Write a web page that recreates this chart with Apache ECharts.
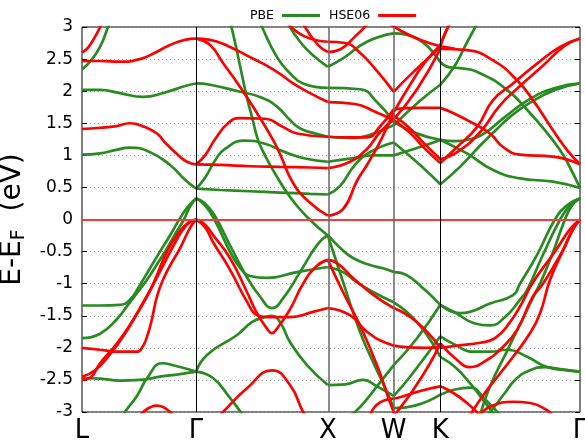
<!DOCTYPE html>
<html>
<head>
<meta charset="utf-8">
<script src="https://cdn.jsdelivr.net/npm/echarts@6/dist/echarts.min.js"></script>
<style>
  html, body { margin: 0; padding: 0; background: #fff; }
  #chart { width: 585px; height: 448px; }
</style>
</head>
<body>
<div id="chart"></div>
<script>
// High-symmetry points along the FCC path (cumulative path length)
const kPoints = [0, 0.866, 1.866, 2.366, 2.72, 3.78];
const kLabels = ['L', 'Γ', 'X', 'W', 'K', 'Γ'];

// ---- PBE bands: [k, E - E_F (eV)] ----
const pbe01 = [[0,2.34],[0.061,2.46],[0.137,2.69],[0.197,3.0],[0.23,3.2]];
const pbe02 = [[0,2.02],[0.137,2.02],[0.288,1.97],[0.463,1.91],[0.63,1.98],[0.782,2.08],[0.866,2.12],[0.972,2.1],[1.199,1.99],[1.351,1.91],[1.48,1.76],[1.579,1.55],[1.655,1.42],[1.753,1.35],[1.866,1.29],[2.034,1.27],[2.186,1.32],[2.366,1.47],[2.566,1.85],[2.72,2.1],[2.831,2.4],[2.907,2.7],[2.998,3.05]];
const pbe03 = [[0,1.01],[0.137,1.03],[0.25,1.08],[0.364,1.12],[0.516,1.05],[0.668,0.85],[0.782,0.62],[0.866,0.48],[1.048,0.46],[1.275,0.44],[1.503,0.42],[1.731,0.40],[1.866,0.39],[1.958,0.52],[2.072,0.85],[2.186,1.05],[2.366,1.2],[2.566,0.85],[2.72,0.55],[2.869,0.82],[3.021,1.15],[3.135,1.38],[3.249,1.6],[3.401,1.82],[3.59,2.02],[3.78,2.12]];
const pbe04 = [[0.866,0.48],[0.934,0.65],[1.01,0.92],[1.085,1.1],[1.237,1.23],[1.389,1.18],[1.541,1.05],[1.693,0.95],[1.866,0.9],[2.034,0.95],[2.224,1.0],[2.366,1.0],[2.566,1.13],[2.72,1.24],[2.922,1.03],[3.12,0.77],[3.325,0.64],[3.575,0.59],[3.78,0.49]];
const pbe05 = [[1.336,3.15],[1.366,3.0],[1.48,2.53],[1.579,2.28],[1.678,2.12],[1.866,2.05],[2.11,2.03],[2.239,1.83],[2.366,1.52],[2.528,1.35],[2.72,1.24],[2.831,1.22],[2.945,1.25],[3.059,1.35],[3.211,1.6],[3.401,1.88],[3.59,2.05],[3.78,2.12]];
const pbe06 = [[1.564,3.05],[1.655,2.77],[1.753,2.56],[1.866,2.38],[1.981,2.51],[2.163,2.77],[2.366,2.9],[2.543,2.82],[2.72,2.45],[2.793,2.37],[2.869,2.36],[3.021,2.28],[3.226,2.02],[3.378,1.71],[3.53,1.35],[3.629,1.08],[3.682,0.9],[3.78,0.49]];
const pbe07 = [[1.108,3.2],[1.146,2.9],[1.199,2.4],[1.252,1.9],[1.29,1.6],[1.336,1.24],[1.389,1.0],[1.45,0.77],[1.579,0.35],[1.708,0.04],[1.866,-0.25],[1.981,-0.97],[2.11,-1.75],[2.209,-2.22],[2.315,-2.69],[2.366,-2.94],[2.528,-2.9],[2.72,-2.73],[2.831,-2.65],[2.945,-2.62],[3.059,-2.8],[3.173,-3.05]];
const pbe08 = [[0.866,0.33],[0.934,0.25],[1.01,0.05],[1.123,-0.4],[1.252,-0.9],[1.351,-1.2],[1.442,-1.38],[1.526,-1.23],[1.655,-0.82],[1.784,-0.4],[1.866,-0.24],[1.958,-0.44],[2.057,-0.6],[2.186,-0.71],[2.285,-0.76],[2.366,-0.82],[2.467,-0.87],[2.604,-1.1],[2.72,-1.33],[2.869,-1.46],[2.945,-1.44],[3.097,-1.31],[3.272,-1.18],[3.325,-1.0],[3.454,-0.55],[3.59,0.0],[3.682,0.22],[3.78,0.33]];
const pbe09 = [[0.866,0.33],[0.934,0.22],[1.01,-0.02],[1.123,-0.5],[1.199,-0.75],[1.275,-0.88],[1.404,-0.91],[1.632,-0.82],[1.866,-0.74],[1.981,-0.82],[2.087,-0.98],[2.209,-1.13],[2.366,-1.29],[2.543,-1.6],[2.72,-2.14],[2.831,-2.3],[2.945,-2.55],[3.059,-2.85],[3.135,-3.05]];
const pbe10 = [[2.034,-3.05],[2.072,-3.0],[2.163,-2.8],[2.239,-2.6],[2.366,-2.27],[2.543,-1.85],[2.72,-1.33],[2.831,-1.45],[2.983,-1.62],[3.097,-1.65],[3.211,-1.52],[3.325,-1.25],[3.378,-1.1],[3.499,-0.55],[3.629,0.0],[3.705,0.22],[3.78,0.33]];
const pbe11 = [[0,-2.47],[0.137,-2.48],[0.288,-2.51],[0.44,-2.5],[0.592,-2.45],[0.744,-2.41],[0.866,-2.37],[0.949,-2.11],[1.177,-1.8],[1.29,-1.6],[1.389,-1.52],[1.442,-1.5],[1.503,-1.6],[1.579,-1.91],[1.708,-2.27],[1.866,-2.58],[1.996,-2.57],[2.133,-2.5],[2.239,-2.6],[2.366,-2.75],[2.49,-2.45],[2.72,-1.82],[2.831,-1.95],[2.968,-2.06],[3.097,-2.06],[3.226,-2.03],[3.378,-2.14],[3.53,-2.3],[3.682,-2.35],[3.78,-2.37]];
const pbe12 = [[0.288,-3.15],[0.326,-3.0],[0.417,-2.75],[0.501,-2.45],[0.607,-2.24],[0.706,-2.28],[0.866,-2.37],[0.994,-2.47],[1.123,-2.78],[1.222,-3.05]];
const pbe13 = [[3.059,-3.05],[3.097,-3.0],[3.211,-2.7],[3.287,-2.5],[3.401,-2.35],[3.515,-2.3],[3.629,-2.33],[3.78,-2.37]];
const pbe14 = [[0,-1.34],[0.137,-1.34],[0.288,-1.33],[0.364,-1.25],[0.44,-1.02],[0.516,-0.76],[0.592,-0.5],[0.668,-0.25],[0.744,0.02],[0.805,0.2],[0.866,0.33]];
const pbe15 = [[0,-1.85],[0.137,-1.78],[0.266,-1.55],[0.342,-1.35],[0.417,-1.15],[0.493,-0.94],[0.569,-0.7],[0.645,-0.45],[0.721,-0.18],[0.774,0.0],[0.82,0.2],[0.866,0.33]];
const pbe16 = [[3.021,-3.05],[3.097,-2.6],[3.226,-2.05],[3.34,-1.57],[3.439,-1.15],[3.477,-1.0],[3.568,-0.55],[3.666,0.0],[3.72,0.22],[3.78,0.33]];

// ---- HSE06 bands: [k, E - E_F (eV)] ----
const hse01 = [[0,2.6],[0.046,2.68],[0.099,2.85],[0.137,3.0],[0.159,3.15]];
const hse02 = [[0,2.47],[0.137,2.47],[0.288,2.46],[0.44,2.5],[0.554,2.6],[0.668,2.72],[0.782,2.8],[0.866,2.82],[0.972,2.8],[1.123,2.69],[1.275,2.53],[1.374,2.43],[1.503,2.27],[1.602,2.12],[1.731,1.97],[1.866,1.83],[2.072,1.8],[2.224,1.68],[2.366,1.55],[2.49,1.35],[2.604,1.1],[2.72,0.88],[2.831,1.1],[2.998,1.44],[3.12,1.86],[3.272,2.12],[3.454,2.43],[3.629,2.69],[3.78,2.82]];
const hse03 = [[0.866,2.82],[0.972,2.72],[1.07,2.44],[1.199,2.07],[1.328,1.66],[1.45,1.24],[1.503,1.02],[1.602,0.57],[1.731,0.26],[1.866,0.06],[1.981,0.16],[2.087,0.6],[2.163,0.85],[2.262,1.21],[2.366,1.67],[2.49,2.1],[2.604,2.45],[2.72,2.72],[2.778,3.0],[2.816,3.15]];
const hse04 = [[0,1.41],[0.137,1.43],[0.25,1.45],[0.364,1.5],[0.478,1.44],[0.569,1.34],[0.63,1.2],[0.721,1.02],[0.797,0.9],[0.866,0.86],[1.048,0.85],[1.275,0.83],[1.503,0.82],[1.731,0.81],[1.866,0.80],[2.034,0.9],[2.163,1.1],[2.262,1.36],[2.366,1.56],[2.543,2.03],[2.72,2.66],[2.922,2.64],[3.12,2.48],[3.302,2.17],[3.423,1.86],[3.575,1.39],[3.682,1.08],[3.78,0.86]];
const hse05 = [[0.866,0.86],[0.934,1.0],[1.01,1.25],[1.108,1.5],[1.199,1.58],[1.389,1.57],[1.526,1.44],[1.632,1.34],[1.866,1.29],[2.034,1.28],[2.163,1.28],[2.262,1.45],[2.366,1.72],[2.566,1.74],[2.72,1.74],[2.816,1.66],[2.968,1.5],[3.097,1.34],[3.196,1.13],[3.325,1.01],[3.575,0.98],[3.78,0.86]];
const hse06 = [[1.564,3.05],[1.693,2.85],[1.866,2.77],[1.996,2.75],[2.11,2.6],[2.224,2.35],[2.366,1.99],[2.49,2.25],[2.72,2.69],[2.755,2.9],[2.808,3.1]];
const hse07 = [[1.678,3.05],[1.791,2.72],[1.866,2.61],[1.958,2.65],[2.072,2.85],[2.171,3.05]];
const hse08 = [[2.3,3.1],[2.414,2.95],[2.566,2.8],[2.72,2.7],[2.831,2.66]];
const hse09 = [[2.366,1.62],[2.49,1.42],[2.604,1.17],[2.72,0.94],[2.847,1.05],[3.021,1.36],[3.173,1.78],[3.325,2.08],[3.5,2.4],[3.66,2.7],[3.78,2.82]];
const hse10 = [[0,-2.5],[0.061,-2.47],[0.137,-2.24],[0.266,-1.93],[0.387,-1.57],[0.493,-1.2],[0.554,-0.94],[0.645,-0.5],[0.729,-0.22],[0.805,-0.05],[0.866,0],[0.934,-0.08],[0.994,-0.24],[1.123,-0.6],[1.252,-1.13],[1.328,-1.46],[1.404,-1.7],[1.442,-1.77],[1.48,-1.7],[1.579,-1.4],[1.678,-1.0],[1.784,-0.72],[1.866,-0.63],[1.936,-0.68],[2.057,-0.91],[2.209,-1.17],[2.366,-1.38],[2.543,-1.6],[2.72,-2.0],[2.869,-1.96],[3.021,-1.92],[3.135,-1.85],[3.249,-1.6],[3.34,-1.3],[3.416,-1.0],[3.59,-0.5],[3.705,-0.15],[3.78,0]];
const hse11 = [[0,-2.45],[0.099,-2.35],[0.213,-2.1],[0.326,-1.78],[0.44,-1.38],[0.531,-1.05],[0.615,-0.72],[0.683,-0.45],[0.759,-0.18],[0.82,-0.04],[0.866,0],[0.934,-0.12],[0.994,-0.35],[1.123,-0.78],[1.252,-1.28],[1.328,-1.49],[1.404,-1.52],[1.579,-1.52],[1.753,-1.44],[1.866,-1.38],[2.034,-1.49],[2.163,-1.75],[2.315,-1.93],[2.414,-1.98],[2.619,-2.0],[2.72,-1.98]];
const hse12 = [[0,-2.0],[0.137,-2.03],[0.288,-2.06],[0.417,-2.06],[0.455,-2.0],[0.493,-1.83],[0.531,-1.55],[0.569,-1.2],[0.615,-0.94],[0.668,-0.72],[0.744,-0.45],[0.82,-0.13],[0.866,0]];
const hse13 = [[0.44,-3.05],[0.463,-3.0],[0.516,-2.93],[0.569,-2.9],[0.622,-2.93],[0.668,-3.0],[0.691,-3.05]];
const hse14 = [[1.048,-3.05],[1.07,-3.0],[1.252,-2.63],[1.442,-2.35],[1.579,-2.58],[1.678,-3.0],[1.7,-3.05]];
const hse15 = [[1.866,-0.63],[1.981,-1.13],[2.11,-1.65],[2.239,-2.27],[2.338,-2.85],[2.376,-3.05]];
const hse16 = [[2.376,-3.05],[2.391,-3.0],[2.513,-2.66],[2.642,-2.24],[2.72,-1.93],[2.847,-2.19],[2.945,-2.3],[3.074,-2.19],[3.173,-2.03],[3.302,-1.72],[3.423,-1.2],[3.499,-1.0],[3.644,-0.5],[3.72,-0.18],[3.78,0]];
const hse17 = [[2.186,-3.05],[2.262,-2.85],[2.414,-2.77],[2.588,-2.66],[2.72,-2.6],[2.816,-2.7],[2.922,-2.86],[3.021,-3.05]];
const hse18 = [[3.021,-3.05],[3.097,-2.92],[3.272,-2.84],[3.401,-2.86],[3.53,-2.97],[3.568,-3.05]];
const hse19 = [[2.945,-3.05],[3.059,-2.7],[3.173,-2.4],[3.272,-2.14],[3.401,-1.77],[3.477,-1.46],[3.553,-0.94],[3.666,-0.42],[3.735,-0.12],[3.78,0]];

const pbeBands = [pbe01, pbe02, pbe03, pbe04, pbe05, pbe06, pbe07, pbe08, pbe09, pbe10, pbe11, pbe12, pbe13, pbe14, pbe15, pbe16];
const hseBands = [hse01, hse02, hse03, hse04, hse05, hse06, hse07, hse08, hse09, hse10, hse11, hse12, hse13, hse14, hse15, hse16, hse17, hse18, hse19];

const PBE_COLOR = '#2a8a22';
const HSE_COLOR = '#ff0000';
const FONT = 'DejaVu Sans';

// Break each band at the high-symmetry points so each path segment is smoothed on its own
function splitAtKPoints(band) {
  const pieces = [];
  let cur = [];
  band.forEach((p, i) => {
    cur.push(p);
    const onSym = kPoints.some(k => Math.abs(k - p[0]) < 0.002);
    if (onSym && i > 0 && i < band.length - 1) {
      pieces.push(cur);
      cur = [p];
    }
  });
  if (cur.length > 1) pieces.push(cur);
  return pieces;
}

function bandSeries(bands, name, color, z) {
  const out = [];
  bands.forEach(b => {
    splitAtKPoints(b).forEach(piece => {
      out.push({
        name: name,
        type: 'line',
        data: piece,
        smooth: 0.5,
        showSymbol: false,
        symbol: 'none',
        clip: true,
        silent: true,
        z: z,
        lineStyle: { color: color, width: 2.7 },
        itemStyle: { color: color }
      });
    });
  });
  return out;
}

// Reference lines: Fermi level and high-symmetry verticals
const guideSeries = {
  name: 'guides',
  type: 'line',
  data: [],
  silent: true,
  z: 1,
  markLine: {
    silent: true,
    symbol: ['none', 'none'],
    label: { show: false },
    animation: false,
    data: [
      { yAxis: 0, lineStyle: { color: '#f03c3c', width: 1.8, type: 'solid' } },
      { xAxis: kPoints[1], lineStyle: { color: '#000', width: 1, type: 'solid' } },
      { xAxis: kPoints[2], lineStyle: { color: '#666', width: 1.5, type: 'solid' } },
      { xAxis: kPoints[3], lineStyle: { color: '#666', width: 1.5, type: 'solid' } },
      { xAxis: kPoints[4], lineStyle: { color: '#000', width: 1, type: 'solid' } }
    ]
  }
};

const chart = echarts.init(document.getElementById('chart'), null, { renderer: 'canvas' });

chart.setOption({
  animation: false,
  backgroundColor: '#fff',
  textStyle: { fontFamily: FONT },
  grid: {
    left: 82, right: 5, top: 27, bottom: 36,
    outerBoundsMode: 'none',
    containLabel: false,
    show: true, borderColor: '#000', borderWidth: 1, backgroundColor: 'transparent'
  },
  legend: {
    data: [{ name: 'PBE' }, { name: 'HSE06' }],
    left: 245, top: 4,
    align: 'right',
    icon: 'rect',
    itemWidth: 38, itemHeight: 3,
    itemGap: 9,
    selectedMode: false,
    textStyle: { fontFamily: FONT, fontSize: 12.5, color: '#000', padding: [0, 3, 0, 0] }
  },
  xAxis: {
    type: 'value',
    min: kPoints[0], max: kPoints[kPoints.length - 1],
    axisLine: { show: false },
    axisTick: { show: false },
    splitLine: { show: false },
    axisLabel: {
      customValues: kPoints,
      alignMinLabel: 'center',
      alignMaxLabel: 'center',
      formatter: v => {
        let best = 0;
        kPoints.forEach((k, i) => { if (Math.abs(k - v) < Math.abs(kPoints[best] - v)) best = i; });
        return kLabels[best];
      },
      fontFamily: FONT, fontSize: 26, color: '#000', margin: 6
    }
  },
  yAxis: [{
    type: 'value',
    min: -3, max: 3, interval: 0.5,
    name: 'E-E{s|F}  (eV)',
    nameLocation: 'middle',
    nameRotate: 90,
    nameGap: 30,
    nameTextStyle: {
      fontFamily: FONT, fontSize: 28, color: '#000',
      rich: { s: { fontFamily: FONT, fontSize: 19, color: '#000', padding: [14, 0, 0, 0] } }
    },
    axisLine: { show: false },
    axisTick: { show: true, inside: true, length: 5, lineStyle: { color: '#000' } },
    axisLabel: { fontFamily: FONT, fontSize: 17, color: '#000', margin: 9 },
    splitLine: { show: true, lineStyle: { color: '#a0a0a0', width: 1, type: [1, 3] } }
  }, {
    type: 'value',
    position: 'right',
    min: -3, max: 3, interval: 0.5,
    axisLine: { show: false },
    axisTick: { show: true, inside: true, length: 5, lineStyle: { color: '#000' } },
    axisLabel: { show: false },
    splitLine: { show: false }
  }],
  series: [guideSeries]
    .concat(bandSeries(pbeBands, 'PBE', PBE_COLOR, 3))
    .concat(bandSeries(hseBands, 'HSE06', HSE_COLOR, 4))
});
</script>
</body>
</html>
